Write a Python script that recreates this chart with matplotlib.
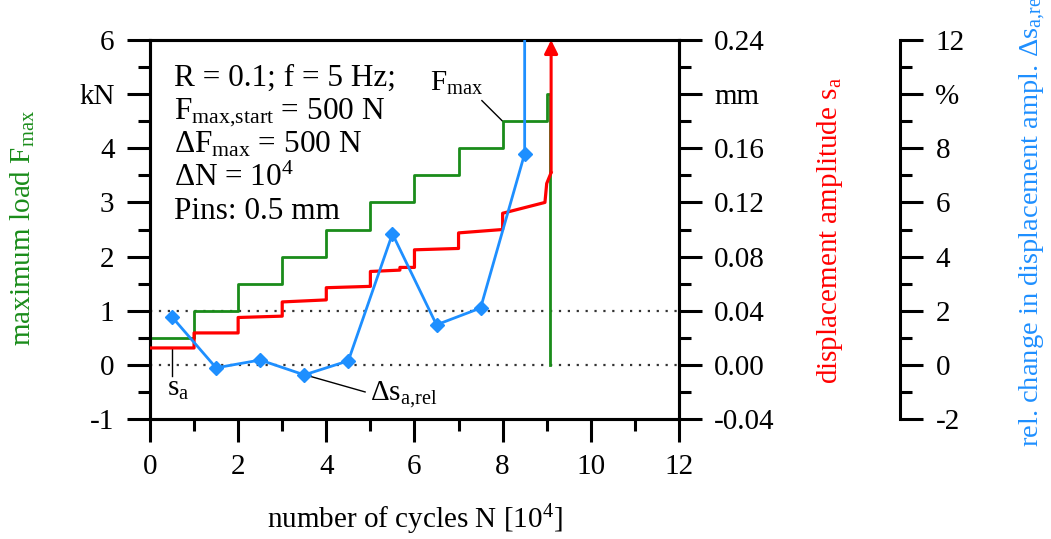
import numpy as np
import matplotlib.pyplot as plt
from matplotlib.ticker import MultipleLocator

plt.rcParams['font.family'] = ['Liberation Serif', 'DejaVu Serif']
plt.rcParams['mathtext.fontset'] = 'custom'
plt.rcParams['mathtext.rm'] = 'Liberation Serif'
plt.rcParams['mathtext.it'] = 'Liberation Serif:italic'
plt.rcParams['axes.unicode_minus'] = False

# maximum load steps (kN), steps-post, last point = drop at failure
n_load = [0, 1, 2, 3, 4, 5, 6, 7, 8, 9, 9.08]
f_max = [0.5, 1.0, 1.5, 2.0, 2.5, 3.0, 3.5, 4.0, 4.5, 5.0, 0.0]

# displacement amplitude (mm)
n_disp = [0, 1, 1, 2, 2, 3, 3, 4, 4, 5, 5, 5.67, 5.67, 6.0, 6.0, 7.0, 7.0,
          8.0, 8.0, 8.96, 9.0, 9.1]
s_a = [0.0125, 0.0125, 0.0236, 0.0236, 0.035, 0.036, 0.0465, 0.048, 0.057,
       0.058, 0.069, 0.070, 0.072, 0.072, 0.085, 0.086, 0.0975, 0.100, 0.112,
       0.120, 0.134, 0.142]

# relative change in displacement amplitude (%), last value is off scale
n_rel = [0.5, 1.5, 2.5, 3.5, 4.5, 5.5, 6.5, 7.5, 8.5, 8.5]
ds_rel = [1.77, -0.11, 0.18, -0.37, 0.15, 4.84, 1.48, 2.1, 7.8, 14.0]

left_labels = ['-1', '0', '1', '2', '3', '4', 'kN', '6']
mm_labels = ['-0.04', '0.00', '0.04', '0.08', '0.12', '0.16', 'mm', '0.24']
pct_labels = ['-2', '0', '2', '4', '6', '8', '%', '12']

green = '#1a8c1a'
red = '#ff0000'
blue = '#1e8fff'

fig = plt.figure(figsize=(10.51, 5.39), dpi=100)
ax = fig.add_axes([0.1427, 0.2226, 0.5033, 0.7032])
ax2 = ax.twinx()
ax3 = ax.twinx()
ax3.spines['right'].set_position(('axes', 1.418))

lw_sp = 2.2
for a in (ax, ax2, ax3):
    for s in a.spines.values():
        s.set_linewidth(lw_sp)
    a.tick_params(which='major', length=16.5, width=lw_sp, labelsize=21, pad=9)
    a.tick_params(which='minor', length=8.5, width=lw_sp)
for s in ('left', 'top', 'bottom'):
    ax3.spines[s].set_visible(False)

ax.set_xlim(0, 12)
ax.set_ylim(-1, 6)
ax2.set_ylim(-0.04, 0.24)
ax3.set_ylim(-2, 12)

ax.xaxis.set_major_locator(MultipleLocator(2))
ax.xaxis.set_minor_locator(MultipleLocator(1))
ax.set_yticks(np.arange(-1, 7, 1))
ax.set_yticklabels(left_labels)
ax.yaxis.set_minor_locator(MultipleLocator(0.5))
ax2.set_yticks(np.linspace(-0.04, 0.24, 8))
ax2.set_yticklabels(mm_labels)
ax2.yaxis.set_minor_locator(MultipleLocator(0.02))
ax3.set_yticks(np.arange(-2, 13, 2))
ax3.set_yticklabels(pct_labels)
ax3.yaxis.set_minor_locator(MultipleLocator(1))

# dotted reference lines
for yv in (0, 1):
    ax.axhline(yv, color='#333333', lw=1.6, ls=(0, (1, 3)), zorder=1)

ax.plot(n_load, f_max, drawstyle='steps-post', color=green, lw=2, zorder=3)
ax2.plot(n_disp, s_a, color=red, lw=2.3, zorder=4)
ax2.annotate('', xy=(n_disp[-1], 0.24), xytext=(n_disp[-1], s_a[-1]),
             arrowprops=dict(arrowstyle='-|>', color=red, lw=2.2,
                             mutation_scale=20, shrinkA=0, shrinkB=0),
             annotation_clip=False)
ax3.plot(n_rel, ds_rel, color=blue, lw=2, marker='D', markersize=7,
         markevery=list(range(9)), zorder=5)
ax3.set_zorder(ax.get_zorder() + 2)
ax2.set_zorder(ax.get_zorder() + 1)
ax2.patch.set_visible(False)
ax3.patch.set_visible(False)

# parameter text block
params = ['R = 0.1; f = 5 Hz;',
          r'F$_{\mathrm{max{,}start}}$ = 500 N',
          r'ΔF$_{\mathrm{max}}$ = 500 N',
          r'ΔN = 10$^{4}$',
          'Pins: 0.5 mm']
for i, t in enumerate(params):
    ax.text(0.545, 5.15 - 0.615 * i, t, fontsize=22.5, va='baseline', ha='left')

# curve labels
ax.text(6.35, 5.06, r'F$_{\mathrm{max}}$', fontsize=21, va='baseline')
ax.plot([7.53, 8.0], [4.88, 4.5], color='black', lw=1)
ax.text(0.39, -0.57, r's$_{\mathrm{a}}$', fontsize=21, va='baseline')
ax.plot([0.5, 0.5], [0.31, -0.2], color='black', lw=1)
ax.text(4.99, -0.66, r'Δs$_{\mathrm{a{,}rel}}$', fontsize=21, va='baseline')
ax.plot([3.52, 4.88], [-0.185, -0.5], color='black', lw=1)

# axis titles
fig.text(0.022, 0.577, r'maximum load F$_{\mathrm{max}}$', color=green,
         rotation=90, fontsize=21, ha='center', va='center')
fig.text(0.79, 0.573, r'displacement amplitude s$_{\mathrm{a}}$', color=red,
         rotation=90, fontsize=21, ha='center', va='center')
fig.text(0.983, 0.171, r'rel. change in displacement ampl. Δs$_{\mathrm{a{,}rel}}$',
         color=blue, rotation=90, fontsize=20.5, ha='center', va='bottom')
fig.text(0.395, 0.035, r'number of cycles N [10$^{4}$]', fontsize=21,
         ha='center', va='center')

fig.savefig('out.png', dpi=100)
